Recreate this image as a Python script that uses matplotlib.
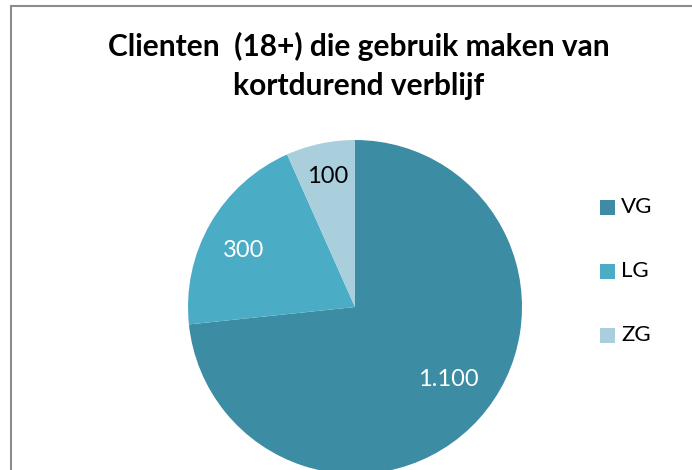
import matplotlib
matplotlib.use("Agg")
import matplotlib.pyplot as plt
from matplotlib.patches import Rectangle
import numpy as np

categories = ["VG", "LG", "ZG"]
values = [1100, 300, 100]
value_labels = ["1.100", "300", "100"]
colors = ["#3C8CA3", "#4BACC6", "#A9CFDD"]
label_colors = ["white", "white", "black"]
title_lines = ["Clienten  (18+) die gebruik maken van", "kortdurend verblijf"]

W, H = 692, 470
fig = plt.figure(figsize=(W / 100, H / 100), dpi=100)
plt.rcParams['font.family'] = ['Lato', 'DejaVu Sans']

# outer chart border
fig.patches.append(Rectangle((11.5 / W, -0.1), 1.1, (H - 5.5) / H + 0.1,
                             transform=fig.transFigure, fill=False,
                             edgecolor="#8C8C8C", linewidth=1.5))

# pie axes: radius ~167 px, center at (355, 307)
cx, cy, r = 355, 307, 167
ax = fig.add_axes([(cx - r) / W, (H - cy - r) / H, 2 * r / W, 2 * r / H])
wedges, texts = ax.pie(values, colors=colors, startangle=90, counterclock=False,
                       radius=1, wedgeprops=dict(linewidth=0))
for i, w in enumerate(wedges):
    ang = np.deg2rad((w.theta1 + w.theta2) / 2 + [4, 3, 0][i])
    d = [0.71, 0.75, 0.80][i]
    ax.text(d * np.cos(ang), d * np.sin(ang), value_labels[i], ha="center",
            va="center", color=label_colors[i], fontsize=17)
ax.set_xlim(-1, 1)
ax.set_ylim(-1, 1)
ax.set_aspect("equal")
ax.axis("off")

for line, base in zip(title_lines, [56, 95]):
    fig.text(359 / W, 1 - base / H, line, ha="center", va="baseline",
             fontsize=21.5, fontweight="bold")

# legend
leg_y = [207, 271, 335]
for cat, col, y in zip(categories, colors, leg_y):
    fig.patches.append(Rectangle((600 / W, 1 - (y + 7.5) / H), 15 / W, 15 / H,
                                 transform=fig.transFigure, facecolor=col,
                                 edgecolor="none"))
    fig.text(621 / W, 1 - y / H, cat, ha="left", va="center", fontsize=16)

fig.savefig("out.png", dpi=100)
